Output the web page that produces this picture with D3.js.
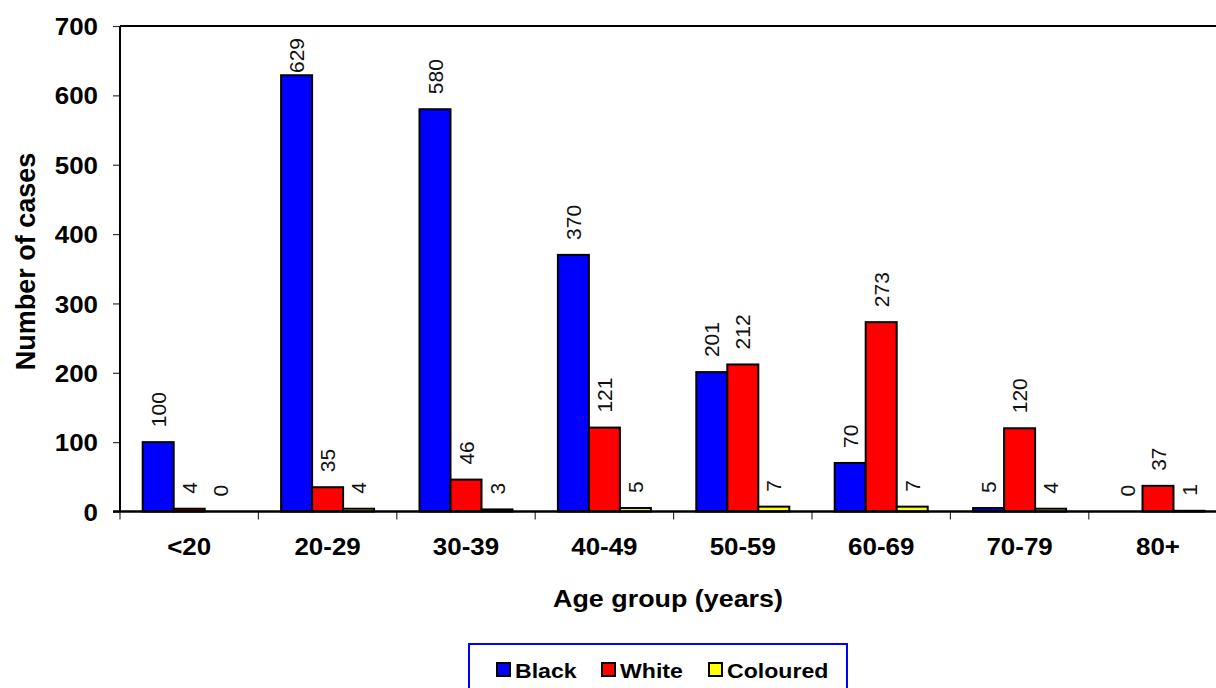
<!DOCTYPE html>
<html>
<head>
<meta charset="utf-8">
<script src="https://cdn.jsdelivr.net/npm/d3@7/dist/d3.min.js"></script>
<style>
  html, body { margin: 0; padding: 0; background: #fff; }
  svg { display: block; font-family: "Liberation Sans", Arial, Helvetica, sans-serif; }
</style>
</head>
<body>
<svg id="chart" width="1216" height="688"></svg>
<script>
// Cases by age group and population group
const ageGroups = ["<20", "20-29", "30-39", "40-49", "50-59", "60-69", "70-79", "80+"];
const seriesNames = ["Black", "White", "Coloured"];
const blackCases = [100, 629, 580, 370, 201, 70, 5, 0];
const whiteCases = [4, 35, 46, 121, 212, 273, 120, 37];
const colouredCases = [0, 4, 3, 5, 7, 7, 4, 1];
const yTicks = [0, 100, 200, 300, 400, 500, 600, 700];
const seriesColors = ["#0000ff", "#ff0000", "#ffff00"];

const seriesValues = [blackCases, whiteCases, colouredCases];
const rows = ageGroups.map((g, i) => ({
  group: g,
  values: seriesNames.map((s, k) => ({ series: s, value: seriesValues[k][i] }))
}));

const svg = d3.select("#chart");
svg.append("rect").attr("width", 1216).attr("height", 688).attr("fill", "#fff");

// Plot area (the right part runs past the visible canvas)
const plot = { left: 120, top: 26, bottom: 511.5, step: 138.4 };
const x = d3.scaleBand()
  .domain(ageGroups)
  .range([plot.left, plot.left + plot.step * ageGroups.length])
  .padding(0);
const xInner = d3.scaleBand()
  .domain(seriesNames)
  .range([0, x.bandwidth()])
  .paddingInner(0)
  .paddingOuter(0.732);
const y = d3.scaleLinear().domain([0, 700]).range([plot.bottom, plot.top]);
const color = d3.scaleOrdinal().domain(seriesNames).range(seriesColors);

// Horizontal text is drawn slightly wide
const wide = 1.08;

// Y axis ticks and labels
const yAxis = svg.append("g")
  .attr("transform", `translate(${plot.left},0)`)
  .call(d3.axisLeft(y).tickValues(yTicks).tickSize(7).tickSizeOuter(0));
yAxis.select(".domain").remove();
yAxis.selectAll(".tick line").attr("stroke", "#333").attr("stroke-width", 1.2);
yAxis.selectAll(".tick text")
  .attr("x", null).attr("dy", null)
  .attr("transform", `translate(-22,8.6) scale(${wide},1)`)
  .attr("text-anchor", "end")
  .attr("fill", "#000")
  .style("font-size", "24px")
  .style("font-weight", "bold");

// X axis labels centred on each group
const xAxis = svg.append("g")
  .attr("transform", `translate(0,${plot.bottom})`)
  .call(d3.axisBottom(x).tickSize(0));
xAxis.select(".domain").remove();
xAxis.selectAll(".tick text")
  .attr("y", null).attr("dy", null)
  .attr("transform", `translate(0,43.5) scale(${wide},1)`)
  .attr("fill", "#000")
  .style("font-size", "24px")
  .style("font-weight", "bold");

// Category boundary ticks
svg.append("g").selectAll("line")
  .data(ageGroups)
  .join("line")
  .attr("x1", d => x(d)).attr("x2", d => x(d))
  .attr("y1", plot.bottom).attr("y2", plot.bottom + 8)
  .attr("stroke", "#333").attr("stroke-width", 1.2);

// Bars
const groups = svg.append("g").selectAll("g")
  .data(rows)
  .join("g")
  .attr("transform", d => `translate(${x(d.group)},0)`);

groups.selectAll("rect")
  .data(d => d.values)
  .join("rect")
  .attr("x", d => xInner(d.series))
  .attr("y", d => y(d.value))
  .attr("width", xInner.bandwidth())
  .attr("height", d => y(0) - y(d.value))
  .attr("fill", d => color(d.series))
  .attr("stroke", "#000")
  .attr("stroke-width", 2);

// Plot frame and axis lines
svg.append("line")
  .attr("x1", plot.left).attr("x2", 1216)
  .attr("y1", plot.top).attr("y2", plot.top)
  .attr("stroke", "#000").attr("stroke-width", 2);
svg.append("line")
  .attr("x1", plot.left).attr("x2", plot.left)
  .attr("y1", plot.top).attr("y2", plot.bottom)
  .attr("stroke", "#000").attr("stroke-width", 2);
svg.append("line")
  .attr("x1", plot.left - 7).attr("x2", 1216)
  .attr("y1", plot.bottom).attr("y2", plot.bottom)
  .attr("stroke", "#000").attr("stroke-width", 2.4);

// Value labels, rotated, above each bar
const labelSize = 21;
const labels = groups.selectAll("text.value")
  .data(d => d.values)
  .join("text")
  .attr("class", "value")
  .attr("text-anchor", "start")
  .attr("fill", "#111")
  .style("font-size", labelSize + "px")
  .text(d => d.value);
labels.attr("transform", function (d) {
  const len = this.getComputedTextLength();
  const cx = xInner(d.series) + xInner.bandwidth() / 2 + 0.358 * labelSize;
  const base = Math.max(y(d.value) - 15, 38 + len);
  return `translate(${cx},${base}) rotate(-90)`;
});

// Axis titles
svg.append("text")
  .attr("transform", `translate(35,261.5) rotate(-90)`)
  .attr("text-anchor", "middle")
  .style("font-size", "27px")
  .style("font-weight", "bold")
  .text("Number of cases");
svg.append("text")
  .attr("transform", `translate(668,606.5) scale(1.12,1)`)
  .attr("text-anchor", "middle")
  .style("font-size", "24px")
  .style("font-weight", "bold")
  .text("Age group (years)");

// Legend
const legend = svg.append("g");
legend.append("rect")
  .attr("x", 469).attr("y", 644)
  .attr("width", 378).attr("height", 70)
  .attr("fill", "#fff")
  .attr("stroke", "#0000ff").attr("stroke-width", 2);
const legendX = d3.scaleOrdinal().domain(seriesNames).range([497, 602, 709]);
const items = legend.selectAll("g.item")
  .data(seriesNames)
  .join("g")
  .attr("class", "item")
  .attr("transform", d => `translate(${legendX(d)},663)`);
items.append("rect")
  .attr("width", 13).attr("height", 13)
  .attr("fill", d => color(d))
  .attr("stroke", "#000").attr("stroke-width", 2);
items.append("text")
  .attr("transform", `translate(18,14.5) scale(1.1,1)`)
  .style("font-size", "21px")
  .style("font-weight", "bold")
  .text(d => d);
</script>
</body>
</html>
